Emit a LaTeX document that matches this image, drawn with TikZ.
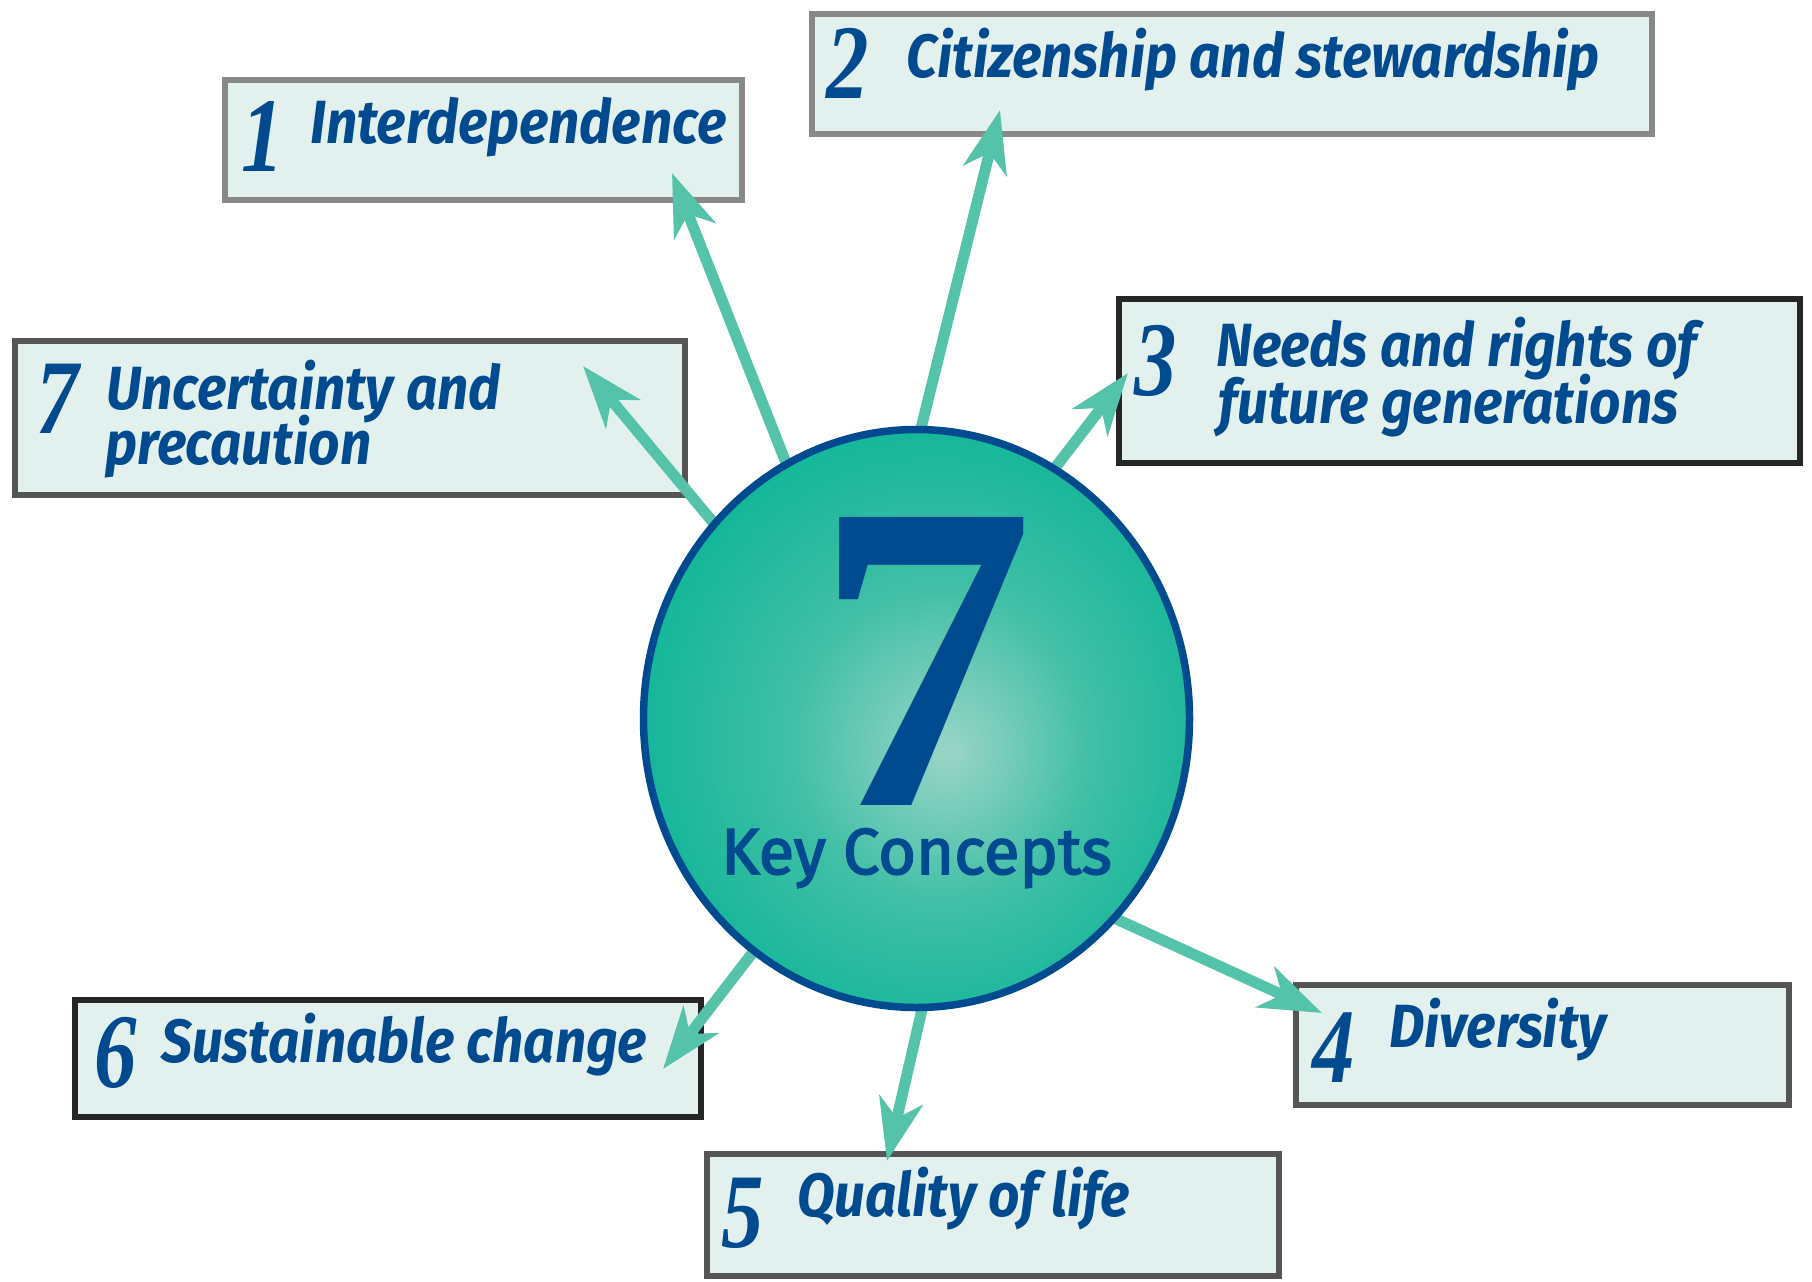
\documentclass[tikz,border=0pt]{standalone}
\usepackage{fontspec}
\usetikzlibrary{arrows.meta,shapes.geometric}
\newfontfamily\labfont[FakeStretch=0.9]{Fira Sans}
\newfontfamily\numfont[FakeStretch=0.8]{Liberation Serif}
\newfontfamily\sevfont{Liberation Serif}
\newfontfamily\kcfont[FakeBold=2.5]{Fira Sans}
\definecolor{tblue}{HTML}{004A8F}
\definecolor{boxfill}{HTML}{E3F1EE}
\definecolor{arrowc}{HTML}{55C3A9}
\definecolor{ballout}{HTML}{00B294}
\definecolor{ballmid}{HTML}{3FBFA6}
\definecolor{ballin}{HTML}{9AD5C7}
\definecolor{bgray}{HTML}{888888}
\definecolor{bmid}{HTML}{555555}
\definecolor{bdark}{HTML}{262626}
\pgfdeclarelayer{bg}
\pgfsetlayers{bg,main}
\pgfdeclareradialshading{ballshade}{\pgfpoint{3bp}{-3bp}}{color(0bp)=(ballin); color(14bp)=(ballmid); color(33bp)=(ballout); color(50bp)=(ballout)}
\tikzset{
  kbox/.style={draw=#1, line width=6pt, fill=boxfill, rectangle, inner sep=0pt, outer sep=0pt},
  lab/.style={anchor=base west, inner sep=0pt, text=tblue, font=\labfont\bfseries\itshape\fontsize{61}{61}\selectfont},
  num/.style={anchor=base west, inner sep=0pt, text=tblue, font=\numfont\bfseries\itshape\fontsize{106}{106}\selectfont},
  arr/.style={draw=arrowc, line width=11pt, shorten <=-12pt, -{Stealth[length=62pt,width=44pt,inset=18pt]}},
}
\begin{document}
\begin{tikzpicture}[x=1pt,y=-1pt]
\begin{pgfonlayer}{bg}
\fill[white] (0,0) rectangle (1812,1282);
\node[kbox=bgray, minimum width=517pt, minimum height=120pt] (b1) at (483.5,140) {};
\node[kbox=bgray, minimum width=840pt, minimum height=120pt] (b2) at (1232,74) {};
\node[kbox=bdark, minimum width=681pt, minimum height=164pt] (b3) at (1459.5,381) {};
\node[kbox=bmid, minimum width=670pt, minimum height=154pt] (b7) at (350,418) {};
\node[kbox=bdark, minimum width=626pt, minimum height=117pt] (b6) at (388,1058.5) {};
\node[kbox=bmid, minimum width=572pt, minimum height=122pt] (b5) at (993,1215) {};
\node[kbox=bmid, minimum width=493pt, minimum height=120pt] (b4) at (1542.5,1045) {};
\end{pgfonlayer}
\useasboundingbox (0,0) rectangle (1812,1282);

\node[ellipse, draw=tblue, line width=7.5pt, inner sep=0pt, minimum width=546pt, minimum height=578pt, shading=ballshade] (ball) at (916.5,718.5) {};

\coordinate (p1) at (672,173);
\coordinate (p2) at (1000,110);
\coordinate (p3) at (1128,373);
\coordinate (p4) at (1322,1013);
\coordinate (p5) at (887,1161);
\coordinate (p6) at (663,1069);
\coordinate (p7) at (583,366);
\begin{pgfonlayer}{bg}
\draw[arr] (ball.117) -- (p1);
\draw[arr] (ball.89) -- (p2);
\draw[arr] (ball.61) -- (p3);
\draw[arr] (ball.315) -- (p4);
\draw[arr] (ball.271) -- (p5);
\draw[arr] (ball.235) -- (p6);
\draw[arr] (ball.136) -- (p7);
\end{pgfonlayer}

\node[anchor=base, inner sep=0pt, text=tblue, font=\sevfont\bfseries\fontsize{440}{440}\selectfont] (seven) at (924,805) {7};
\node[anchor=base, inner sep=0pt, text=tblue, font=\kcfont\fontsize{65}{65}\selectfont] (kc) at (916.5,874) {Key Concepts};

\node[num] (n1) at (241,171) {1};
\node[lab] (t1) at (310,143) {Interdependence};
\node[num] (n2) at (826,98) {2};
\node[lab] (t2) at (906,77) {Citizenship and stewardship};
\node[num] (n3) at (1134,395) {3};
\node[lab] (t3a) at (1216,366) {Needs and rights of};
\node[lab] (t3b) at (1218,423) {future generations};
\node[num] (n7) at (36,433) {7};
\node[lab] (t7a) at (106,409) {Uncertainty and};
\node[lab] (t7b) at (105,464) {precaution};
\node[num] (n6) at (94,1087) {6};
\node[lab] (t6) at (161,1062) {Sustainable change};
\node[num] (n5) at (721,1247) {5};
\node[lab] (t5) at (797,1216) {Quality of life};
\node[num] (n4) at (1312,1082) {4};
\node[lab] (t4) at (1389,1047) {Diversity};
\end{tikzpicture}
\end{document}
